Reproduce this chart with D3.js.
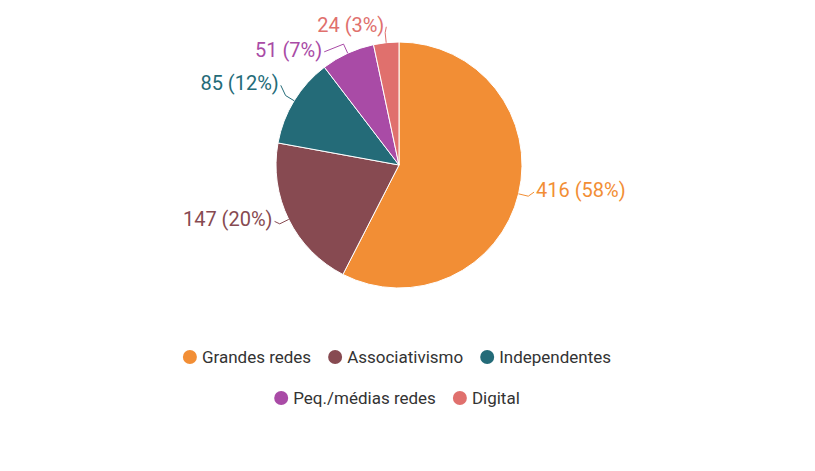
<!DOCTYPE html>
<html><head><meta charset="utf-8">
<script src="https://cdn.jsdelivr.net/npm/d3@7"></script>
<style>body{margin:0;background:#fff}</style></head>
<body><svg width="815" height="471"></svg>
<script>
const categories = ["Grandes redes", "Associativismo", "Independentes", "Peq./médias redes", "Digital"];
const values = [416, 147, 85, 51, 24];
const percents = ["58%", "20%", "12%", "7%", "3%"];
const colors = ["#f28e35", "#874a51", "#246b78", "#a94ba6", "#e0706d"];

const svg = d3.select("svg");
const cx = 399, cy = 165, r = 123;
const g = svg.append("g").attr("transform", `translate(${cx},${cy})`);
const pie = d3.pie().sort(null).value(d => d)(values);
const arc = d3.arc().innerRadius(0).outerRadius(r);

g.selectAll("path.slice").data(pie).join("path")
  .attr("d", arc).attr("fill", (d, i) => colors[i])
  .attr("stroke", "#fff").attr("stroke-width", 1);

// label nudges to avoid overlap
const nudge = [[0, -8], [0, -8], [0, -8], [-18, 13], [0, 0]];
pie.forEach((d, i) => {
  const a = (d.startAngle + d.endAngle) / 2;
  const p0 = [Math.sin(a) * r, -Math.cos(a) * r];
  const p1 = [Math.sin(a) * (r + 10), -Math.cos(a) * (r + 10)];
  const left = Math.sin(a) < 0;
  let tx = Math.sin(a) * (r + 18) + nudge[i][0];
  let ty = -Math.cos(a) * (r + 18) + nudge[i][1];
  const lx = tx + (left ? 2 : -2);
  g.append("path")
    .attr("d", `M${p0}L${p1}L${lx},${ty + 2}`)
    .attr("fill", "none").attr("stroke", colors[i]).attr("stroke-width", 1);
  g.append("text").attr("x", tx).attr("y", ty).attr("dy", "0.35em")
    .attr("text-anchor", left ? "end" : "start")
    .attr("font-family", "Roboto").attr("font-size", 20)
    .attr("fill", colors[i])
    .text(`${values[i]} (${percents[i]})`);
});

// legend
const rows = [[0, 1, 2], [3, 4]];
const rowY = [357, 398];
rows.forEach((row, ri) => {
  const lg = svg.append("g");
  let x = 0;
  row.forEach(i => {
    const it = lg.append("g").attr("transform", `translate(${x},0)`);
    it.append("circle").attr("cx", 7).attr("cy", 0).attr("r", 7).attr("fill", colors[i]);
    const t = it.append("text").attr("x", 19).attr("dy", "0.35em")
      .attr("font-family", "Roboto").attr("font-size", 17).attr("fill", "#333")
      .text(categories[i]);
    x += 19 + t.node().getComputedTextLength() + 17;
  });
  const w = x - 17;
  lg.attr("transform", `translate(${397 - w / 2},${rowY[ri]})`);
});
</script></body></html>
